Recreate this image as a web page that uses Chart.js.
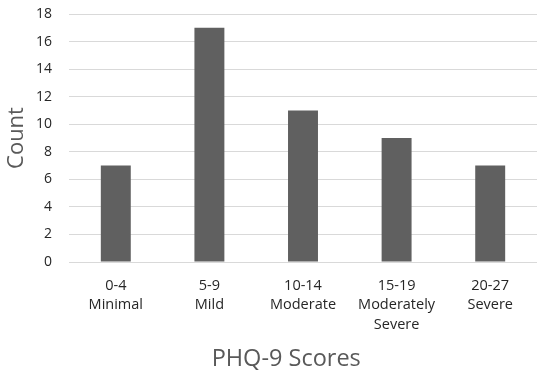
<!DOCTYPE html>
<html>
<head>
<meta charset="utf-8">
<script src="https://cdn.jsdelivr.net/npm/chart.js@4/dist/chart.umd.min.js"></script>
<style>
  html, body { margin: 0; padding: 0; background: #fff; }
  #wrap { width: 537px; height: 374px; position: relative; }
</style>
</head>
<body>
<div id="wrap"><canvas id="chart"></canvas></div>
<script>
// PHQ-9 score bands and how many respondents fell in each
const scoreBands = [
  ['0-4', 'Minimal'],
  ['5-9', 'Mild'],
  ['10-14', 'Moderate'],
  ['15-19', 'Moderately', 'Severe'],
  ['20-27', 'Severe']
];
const counts = [7, 17, 11, 9, 7];
const yTicks = [0, 2, 4, 6, 8, 10, 12, 14, 16, 18];
const xTitle = 'PHQ-9 Scores';

const fontFamily = "'Open Sans', 'Liberation Sans', sans-serif";

// x axis title sits a little left of the plot centre, so draw it by hand
const bottomTitle = {
  id: 'bottomTitle',
  afterDraw(chart) {
    const c = chart.ctx;
    c.save();
    c.font = '23.5px ' + fontFamily;
    c.fillStyle = '#595959';
    c.textAlign = 'center';
    c.textBaseline = 'middle';
    c.fillText(xTitle, chart.width * 0.533, chart.height - 15);
    c.restore();
  }
};

const ctx = document.getElementById('chart').getContext('2d');
new Chart(ctx, {
  type: 'bar',
  data: {
    labels: scoreBands,
    datasets: [{
      label: 'Count',
      data: counts,
      backgroundColor: '#606060',
      categoryPercentage: 1,
      barPercentage: 0.32
    }]
  },
  options: {
    responsive: true,
    maintainAspectRatio: false,
    animation: false,
    layout: { padding: { top: 0, right: 0, left: 4, bottom: 0 } },
    plugins: {
      legend: { display: false },
      tooltip: { enabled: false }
    },
    scales: {
      x: {
        grid: { display: false },
        border: { color: '#d9d9d9', width: 1 },
        ticks: {
          color: '#262626',
          font: { family: fontFamily, size: 14.5, lineHeight: 1.35 },
          padding: 6,
          maxRotation: 0,
          autoSkip: false
        },
        afterFit: (scale) => { scale.height = 112; }
      },
      y: {
        min: 0,
        max: 18,
        afterBuildTicks: (scale) => { scale.ticks = yTicks.map(v => ({ value: v })); },
        grid: { color: '#d9d9d9', drawTicks: false },
        border: { display: false },
        ticks: {
          color: '#262626',
          font: { family: fontFamily, size: 14 },
          padding: 17
        },
        title: {
          display: true,
          text: 'Count',
          color: '#595959',
          font: { family: fontFamily, size: 22 },
          padding: { top: 0, bottom: 2 }
        },
        afterFit: (scale) => {
          scale.width = 65;
          // keep the top gridline close to the canvas edge
          scale.paddingTop = 14;
          scale.paddingBottom = 0;
        }
      }
    }
  },
  plugins: [bottomTitle]
});
</script>
</body>
</html>
